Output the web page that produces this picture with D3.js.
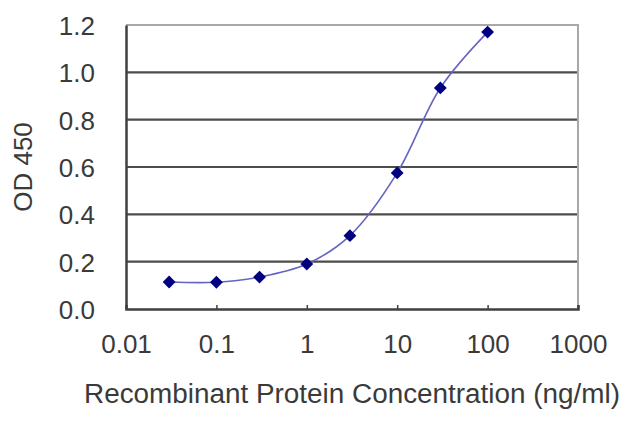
<!DOCTYPE html>
<html>
<head>
<meta charset="utf-8">
<script src="https://cdn.jsdelivr.net/npm/d3@7"></script>
<style>
  body { margin: 0; background: #fff; }
  text { font-family: "Liberation Sans", Arial, sans-serif; fill: #3a3a3a; }
</style>
</head>
<body>
<div id="chart"></div>
<script>
// concentrations (ng/ml) and OD readings
var conc = [0.03, 0.1, 0.3, 1, 3, 10, 30, 100];
var od = [0.114, 0.113, 0.135, 0.19, 0.31, 0.575, 0.934, 1.17];
var xTicks = [0.01, 0.1, 1, 10, 100, 1000];
var xTickLabels = ["0.01", "0.1", "1", "10", "100", "1000"];
var yTicks = [0, 0.2, 0.4, 0.6, 0.8, 1.0, 1.2];

var width = 640, height = 427;
var margin = {top: 25, right: 62, bottom: 118, left: 126};
var w = width - margin.left - margin.right,
    h = height - margin.top - margin.bottom;

var svg = d3.select("#chart")
  .append("svg")
    .attr("width", width)
    .attr("height", height)
  .append("g")
    .attr("transform", "translate(" + margin.left + "," + margin.top + ")");

var x = d3.scaleLog()
  .domain([0.01, 1000])
  .range([0, w]);

var y = d3.scaleLinear()
  .domain([0, 1.2])
  .range([h, 0]);

// gridlines
svg.selectAll(".grid")
  .data(yTicks.filter(function(d) { return d > 0 && d < 1.2; }))
  .enter().append("line")
    .attr("x1", 0).attr("x2", w)
    .attr("y1", function(d) { return y(d); })
    .attr("y2", function(d) { return y(d); })
    .attr("stroke", "#4c4c4c")
    .attr("stroke-width", 2.2);

// top & right border (lighter)
svg.append("path")
  .attr("d", "M0," + y(1.2) + "H" + w + "V" + h)
  .attr("fill", "none")
  .attr("stroke", "#a8a8a8")
  .attr("stroke-width", 2);

// Y axis
var yAxis = svg.append("g")
  .call(d3.axisLeft(y).tickValues(yTicks).tickSize(0).tickPadding(31)
    .tickFormat(d3.format(".1f")));
yAxis.select(".domain").attr("stroke", "#404040").attr("stroke-width", 2.5);
yAxis.selectAll("text").style("font-size", "26px").attr("dy", "0.36em");

// X axis
var xAxis = svg.append("g")
  .attr("transform", "translate(0," + h + ")")
  .call(d3.axisBottom(x).tickValues(xTicks).tickSize(-4).tickPadding(26)
    .tickFormat(function(d, i) { return xTickLabels[i]; }));
xAxis.select(".domain").attr("stroke", "#404040").attr("stroke-width", 2.5);
xAxis.selectAll(".tick line").attr("stroke", "#404040").attr("stroke-width", 1.5);
xAxis.selectAll("text").style("font-size", "26px");

// fitted curve
var data = conc.map(function(c, i) { return {c: c, v: od[i]}; });
svg.append("path")
  .datum(data)
  .attr("fill", "none")
  .attr("stroke", "#6464c4")
  .attr("stroke-width", 1.6)
  .attr("d", d3.line()
    .curve(d3.curveCatmullRom.alpha(0.5))
    .x(function(d) { return x(d.c); })
    .y(function(d) { return y(d.v); }));

// markers
svg.selectAll(".pt")
  .data(data)
  .enter().append("path")
    .attr("transform", function(d) { return "translate(" + x(d.c) + "," + y(d.v) + ")"; })
    .attr("d", d3.symbol().type(d3.symbolDiamond2).size(105))
    .attr("fill", "#000080");

// axis titles
svg.append("text")
  .attr("x", -42)
  .attr("y", h + 94)
  .attr("textLength", 536)
  .attr("lengthAdjust", "spacingAndGlyphs")
  .style("font-size", "27px")
  .text("Recombinant Protein Concentration (ng/ml)");

svg.append("text")
  .attr("transform", "translate(" + (-94) + "," + (h / 2) + ") rotate(-90)")
  .attr("text-anchor", "middle")
  .style("font-size", "26px")
  .text("OD 450");
</script>
</body>
</html>
